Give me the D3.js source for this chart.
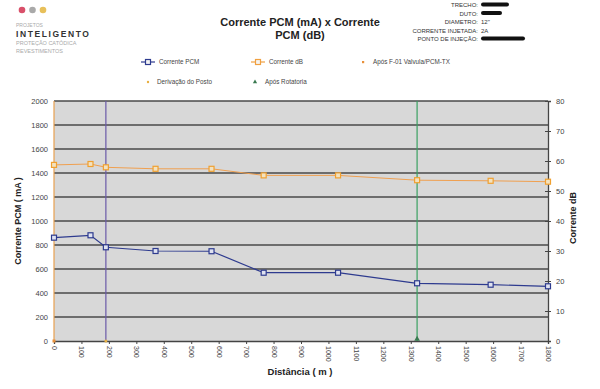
<!DOCTYPE html>
<html>
<head>
<meta charset="utf-8">
<script src="https://cdn.jsdelivr.net/npm/d3@7"></script>
<style>
  body { margin: 0; background: #fff; }
  svg { font-family: "Liberation Sans", Arial, sans-serif; display: block; }
</style>
</head>
<body>
<div id="chart"></div>
<script>
// chart data
var distances = [0, 133, 189, 370, 574, 764, 1035, 1323, 1591, 1800]
var correntePCM = [861, 881, 781, 750, 748, 569, 569, 481, 469, 456]
var correnteDB = [58.7, 59, 57.9, 57.4, 57.4, 55.2, 55.2, 53.6, 53.4, 53.1]
var xTicks = d3.range(0, 1801, 100)
var yTicks = d3.range(0, 2001, 200)
var y2Ticks = d3.range(0, 81, 10)
// vertical reference lines
var refNames = ["Após F-01 Valvula/PCM-TX", "Derivação do Posto", "Após Rotatoria"]
var refPositions = [0, 189, 1323]
var infoLabels = ["TRECHO:", "DUTO:", "DIAMETRO:", "CORRENTE INJETADA:", "PONTO DE INJEÇÃO:"]
var infoValues = ["", "", "12\"", "2A", ""]

var W = 600, H = 389
var margin = { top: 101, right: 52, bottom: 48, left: 54 },
    width = W - margin.left - margin.right,
    height = H - margin.top - margin.bottom

var root = d3.select("#chart").append("svg")
    .attr("width", W)
    .attr("height", H)

// logo
var logoColors = ["#d9506a", "#a9a9a9", "#e8c05a"]
root.selectAll(".dot").data(logoColors).enter().append("circle")
    .attr("cx", function (d, i) { return 22 + i * 10.5 })
    .attr("cy", 10)
    .attr("r", 3.3)
    .attr("fill", function (d) { return d })
root.append("text").attr("x", 16).attr("y", 27).attr("font-size", 5).attr("fill", "#aaa").text("PROJETOS")
root.append("text").attr("x", 16).attr("y", 36.5).attr("font-size", 8.5).attr("font-weight", "bold")
    .attr("letter-spacing", 1.6).attr("fill", "#333").text("INTELIGENTO")
root.append("text").attr("x", 16).attr("y", 45).attr("font-size", 5.5).attr("fill", "#aaa").text("PROTEÇÃO CATÓDICA")
root.append("text").attr("x", 16).attr("y", 52.5).attr("font-size", 5.5).attr("fill", "#aaa").text("REVESTIMENTOS")

// title
root.append("text").attr("x", 300).attr("y", 26).attr("text-anchor", "middle")
    .attr("font-size", 11).attr("font-weight", "bold").attr("fill", "#222").text("Corrente PCM (mA) x Corrente")
root.append("text").attr("x", 300).attr("y", 39).attr("text-anchor", "middle")
    .attr("font-size", 11).attr("font-weight", "bold").attr("fill", "#222").text("PCM (dB)")

// info block
infoLabels.forEach(function (t, i) {
    var yy = 7 + i * 8.5
    root.append("text").attr("x", 478).attr("y", yy).attr("text-anchor", "end")
        .attr("font-size", 6).attr("fill", "#333").text(t)
    if (infoValues[i]) {
        root.append("text").attr("x", 481).attr("y", yy).attr("font-size", 6).attr("fill", "#333").text(infoValues[i])
    } else {
        // redacted value
        var w = [28, 21, 0, 0, 44][i]
        root.append("rect").attr("x", 481).attr("y", yy - 4.5).attr("width", w).attr("height", 4)
            .attr("rx", 2).attr("fill", "#111")
    }
})

// legend
var lg = root.append("g").attr("font-size", 6.3).attr("fill", "#444")
function legendSeries(x, y, color, label) {
    lg.append("line").attr("x1", x).attr("x2", x + 14).attr("y1", y).attr("y2", y)
        .attr("stroke", color).attr("stroke-width", 1.2)
    lg.append("rect").attr("x", x + 4.5).attr("y", y - 2.5).attr("width", 5).attr("height", 5)
        .attr("fill", "#f4f4f4").attr("stroke", color).attr("stroke-width", 1.2)
    lg.append("text").attr("x", x + 18).attr("y", y + 2).text(label)
}
legendSeries(141, 62, "#2e3b8f", "Corrente PCM")
legendSeries(251, 62, "#f0a040", "Corrente dB")
lg.append("rect").attr("x", 362).attr("y", 61).attr("width", 2.2).attr("height", 2.2).attr("fill", "#e8903a")
lg.append("text").attr("x", 373).attr("y", 64).text(refNames[0])
lg.append("circle").attr("cx", 148).attr("cy", 82).attr("r", 1.2).attr("fill", "#e8b040")
lg.append("text").attr("x", 157).attr("y", 84).text(refNames[1])
lg.append("path").attr("d", d3.symbol(d3.symbolTriangle, 8)()).attr("transform", "translate(255,82)").attr("fill", "#3a7a50")
lg.append("text").attr("x", 265).attr("y", 84).text(refNames[2])

var svg = root.append("g")
    .attr("transform", "translate(" + margin.left + "," + margin.top + ")")

var x = d3.scaleLinear().domain([0, 1800]).range([0, width])
var y = d3.scaleLinear().domain([0, 2000]).range([height, 0])
var y2 = d3.scaleLinear().domain([0, 80]).range([height, 0])

// plot background
svg.append("rect").attr("width", width).attr("height", height).attr("fill", "#d8d8d8")

// gridlines
svg.selectAll(".grid").data(yTicks.filter(function (d) { return d > 0 })).enter().append("line")
    .attr("x1", 0).attr("x2", width)
    .attr("y1", function (d) { return y(d) }).attr("y2", function (d) { return y(d) })
    .attr("stroke", "#4a4a4a").attr("stroke-width", 1.3)

// x axis
var xAxis = svg.append("g")
    .attr("transform", "translate(0," + height + ")")
    .call(d3.axisBottom(x).tickValues(xTicks).tickSize(3).tickFormat(d3.format("d")))
xAxis.select(".domain").attr("stroke", "#444").attr("stroke-width", 1.3)
xAxis.selectAll(".tick line").attr("stroke", "#444")
xAxis.selectAll("text")
    .attr("font-size", 7).attr("fill", "#444")
    .attr("transform", "rotate(90)")
    .attr("text-anchor", "start")
    .attr("x", 5).attr("y", 0).attr("dy", "0.35em")

// left axis
var yAxis = svg.append("g").call(d3.axisLeft(y).tickValues(yTicks).tickSize(0).tickPadding(6).tickFormat(d3.format("d")))
yAxis.select(".domain").remove()
yAxis.selectAll("text").attr("font-size", 7.5).attr("fill", "#444")

// right axis
var y2Axis = svg.append("g").attr("transform", "translate(" + width + ",0)")
    .call(d3.axisRight(y2).tickValues(y2Ticks).tickSize(3).tickPadding(5))
y2Axis.select(".domain").attr("stroke", "#444").attr("stroke-width", 1.3)
y2Axis.selectAll(".tick line").attr("stroke", "#444").attr("x1", -3)
y2Axis.selectAll("text").attr("font-size", 7.5).attr("fill", "#444")

// vertical reference lines
var refColors = ["#e8a050", "#6a5aa8", "#3aa060"]
svg.selectAll(".ref").data(refPositions).enter().append("line")
    .attr("x1", function (d) { return x(d) }).attr("x2", function (d) { return x(d) })
    .attr("y1", y(0)).attr("y2", y(2000))
    .attr("stroke", function (d, i) { return refColors[i] })
    .attr("stroke-width", 1.2)
svg.append("rect").attr("x", x(refPositions[0]) - 1.5).attr("y", y(0) - 1.5).attr("width", 3).attr("height", 3).attr("fill", "#e8903a")
svg.append("circle").attr("cx", x(refPositions[1])).attr("cy", y(0)).attr("r", 1.5).attr("fill", "#e8b040")
svg.append("path").attr("d", d3.symbol(d3.symbolTriangle, 14)())
    .attr("transform", "translate(" + x(refPositions[2]) + "," + (y(0) - 2) + ")").attr("fill", "#3a7a50")

// series lines
var pcmData = distances.map(function (d, i) { return { x: d, y: correntePCM[i] } })
var dbData = distances.map(function (d, i) { return { x: d, y: correnteDB[i] } })

svg.append("path").datum(dbData)
    .attr("fill", "none").attr("stroke", "#f0a050").attr("stroke-width", 1)
    .attr("d", d3.line().x(function (d) { return x(d.x) }).y(function (d) { return y2(d.y) }))
svg.selectAll(".mdb").data(dbData).enter().append("rect")
    .attr("x", function (d) { return x(d.x) - 2.5 }).attr("y", function (d) { return y2(d.y) - 2.5 })
    .attr("width", 5).attr("height", 5)
    .attr("fill", "#f2e2c0").attr("stroke", "#f0a030").attr("stroke-width", 1.2)

svg.append("path").datum(pcmData)
    .attr("fill", "none").attr("stroke", "#2e3b8f").attr("stroke-width", 1.2)
    .attr("d", d3.line().x(function (d) { return x(d.x) }).y(function (d) { return y(d.y) }))
svg.selectAll(".mpcm").data(pcmData).enter().append("rect")
    .attr("x", function (d) { return x(d.x) - 2.5 }).attr("y", function (d) { return y(d.y) - 2.5 })
    .attr("width", 5).attr("height", 5)
    .attr("fill", "#dfe2f0").attr("stroke", "#2e3b8f").attr("stroke-width", 1.2)

// axis titles
root.append("text").attr("transform", "translate(21," + (margin.top + height / 2) + ") rotate(-90)")
    .attr("text-anchor", "middle").attr("font-size", 9).attr("font-weight", "bold").attr("fill", "#222")
    .text("Corrente PCM ( mA )")
root.append("text").attr("transform", "translate(576," + (margin.top + 117) + ") rotate(-90)")
    .attr("text-anchor", "middle").attr("font-size", 9).attr("font-weight", "bold").attr("fill", "#222")
    .text("Corrente dB")
root.append("text").attr("x", 300).attr("y", 375).attr("text-anchor", "middle")
    .attr("font-size", 9.5).attr("font-weight", "bold").attr("fill", "#222")
    .text("Distância ( m )")
</script>
</body>
</html>
